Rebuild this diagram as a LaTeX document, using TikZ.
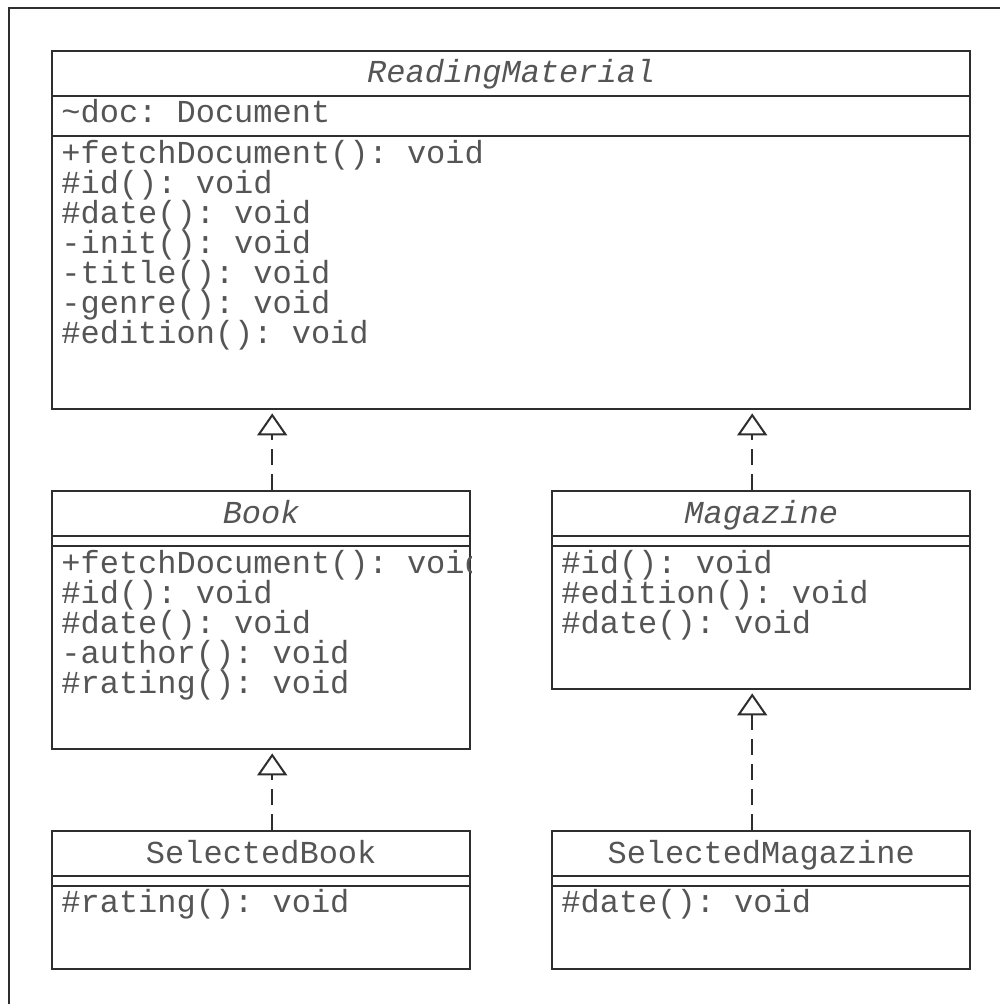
\documentclass[tikz,border=0pt]{standalone}
\usepackage{fontspec}
\setmonofont{Liberation Mono}
\usetikzlibrary{positioning,calc,arrows.meta}
\definecolor{umlline}{HTML}{2E2E2E}
\definecolor{umltext}{HTML}{555555}
\tikzset{
  classbox/.style={draw=umlline,line width=1.2pt,inner sep=0pt},
  member/.style={anchor=base west,inner sep=0pt,text=umltext,
                 font=\ttfamily\fontsize{16}{18}\selectfont},
  classname/.style={member,anchor=base},
  realize/.style={draw=umlline,line width=0.9pt,dash pattern=on 8pt off 4.5pt,
                  -{Triangle[open,width=15pt,length=11pt,line width=1pt]},shorten >=1.5pt},
}
% #1 node, #2 x, #3 y, #4 width, #5 height (px), #6 title
\newcommand{\umlclass}[6]{%
  \node[classbox,minimum width=#4*0.5pt,minimum height=#5*0.5pt,anchor=north west] (#1) at (#2,#3) {};
  \node[classname] (#1-title) at ($(#1.north)+(0,33)$) {#6};
}
\newcommand{\umldivider}[2]{%
  \draw[umlline,line width=1.2pt] ($(#1.north west)+(0,#2)$) -- ($(#1.north east)+(0,#2)$);
}

\begin{document}
\begin{tikzpicture}[x=0.5pt,y=-0.5pt]
  \useasboundingbox (0,0) rectangle (1000,1004);
  \draw[umlline,line width=1.2pt] (9,1004) -- (9,8) -- (1000,8);

  % classes
  \umlclass{rm}{51}{50}{918}{358}{\itshape ReadingMaterial}
  \umldivider{rm}{46}
  \umldivider{rm}{86}
  \node[member] (rm-a1) at ($(rm.north west)+(10,73)$) {\textasciitilde doc: Document};
  \foreach \txt [count=\i from 0] in {+fetchDocument(): void, \#id(): void, \#date(): void,
      -init(): void, -title(): void, -genre(): void, \#edition(): void}
    \node[member] (rm-m\i) at ($(rm.north west)+(10,114+30*\i)$) {\txt};

  \umlclass{book}{51}{490}{418}{258}{\itshape Book}
  \umldivider{book}{46}
  \umldivider{book}{56}
  \begin{scope}
    \clip (book.north west) rectangle (book.south east);
    \foreach \txt [count=\i from 0] in {+fetchDocument(): void, \#id(): void, \#date(): void,
        -author(): void, \#rating(): void}
      \node[member] (book-m\i) at ($(book.north west)+(10,83+30*\i)$) {\txt};
  \end{scope}

  \umlclass{mag}{551}{490}{418}{198}{\itshape Magazine}
  \umldivider{mag}{46}
  \umldivider{mag}{56}
  \foreach \txt [count=\i from 0] in {\#id(): void, \#edition(): void, \#date(): void}
    \node[member] (mag-m\i) at ($(mag.north west)+(10,83+30*\i)$) {\txt};

  \umlclass{selbook}{51}{830}{418}{138}{SelectedBook}
  \umldivider{selbook}{46}
  \umldivider{selbook}{56}
  \node[member] (selbook-m0) at ($(selbook.north west)+(10,82)$) {\#rating(): void};

  \umlclass{selmag}{551}{830}{418}{138}{SelectedMagazine}
  \umldivider{selmag}{46}
  \umldivider{selmag}{56}
  \node[member] (selmag-m0) at ($(selmag.north west)+(10,82)$) {\#date(): void};

  % realizations
  \coordinate (book-up) at ($(book.north)+(11,0)$);
  \coordinate (mag-up) at ($(mag.north)+(-9,0)$);
  \coordinate (selbook-up) at ($(selbook.north)+(11,0)$);
  \coordinate (selmag-up) at ($(selmag.north)+(-9,0)$);
  \draw[realize] (book-up) -- (book-up |- rm.south);
  \draw[realize] (mag-up) -- (mag-up |- rm.south);
  \draw[realize] (selbook-up) -- (selbook-up |- book.south);
  \draw[realize] (selmag-up) -- (selmag-up |- mag.south);
\end{tikzpicture}
\end{document}
